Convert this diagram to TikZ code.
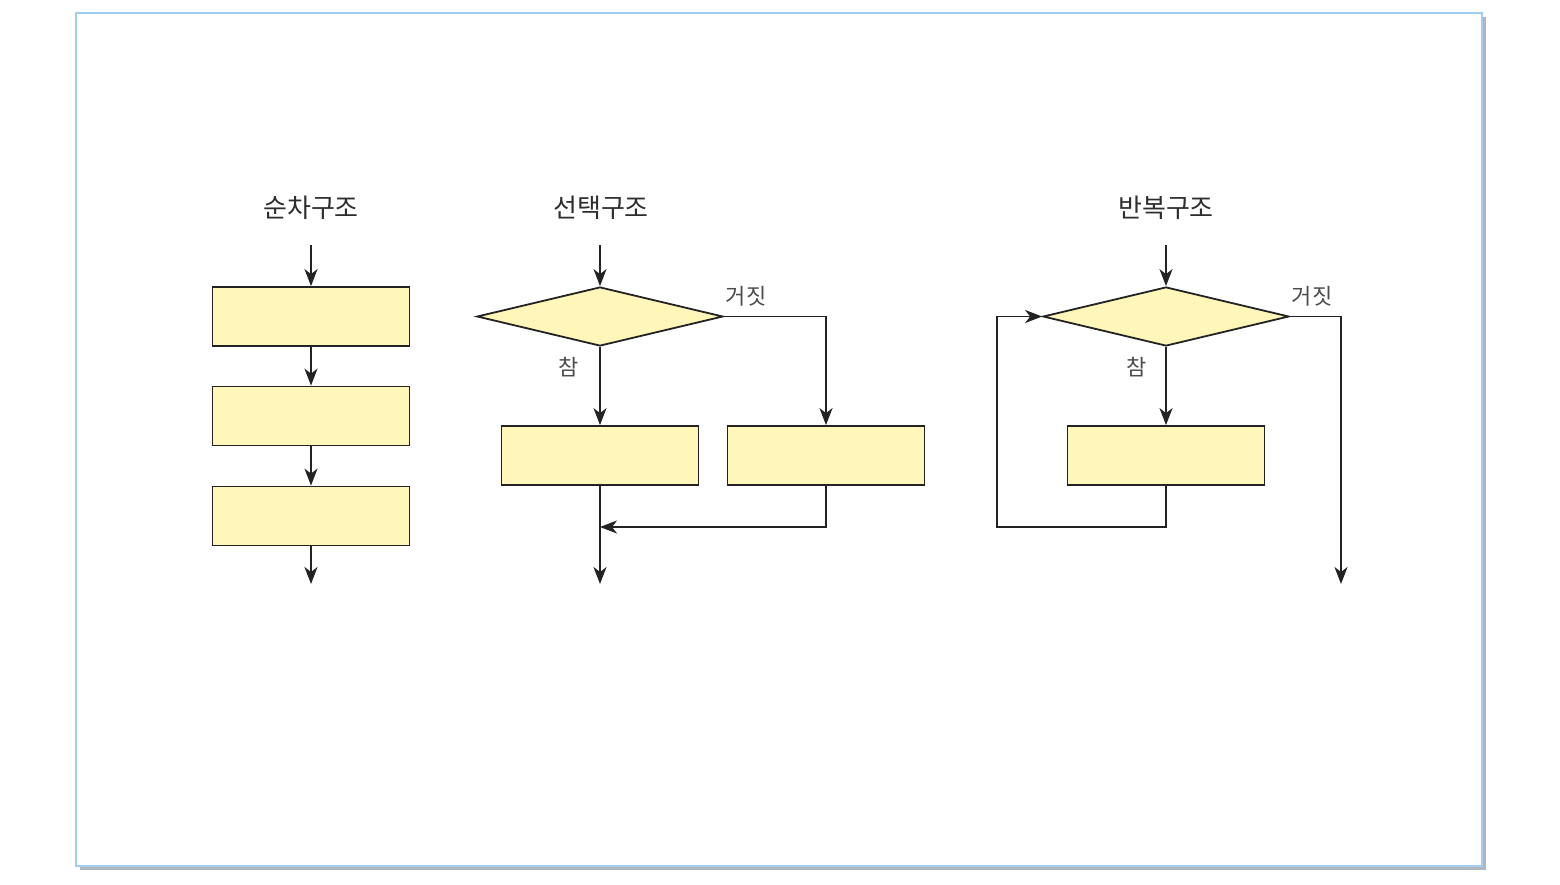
\documentclass[tikz,border=0pt]{standalone}
\usepackage{fontspec}
\newfontfamily\kr{Noto Sans CJK KR}
\usetikzlibrary{arrows.meta,shapes.geometric}
\definecolor{boxfill}{RGB}{255,246,186}
\definecolor{ln}{RGB}{35,35,35}
\definecolor{frameblue}{RGB}{160,205,240}
\definecolor{shadowgray}{RGB}{175,182,190}
\definecolor{txt}{RGB}{45,45,45}
\begin{document}
\begin{tikzpicture}[x=1pt,y=-1pt,
  procbox/.style={draw=ln,line width=1.8pt,fill=boxfill,rectangle,minimum width=197pt,minimum height=59pt,inner sep=0pt},
  decbox/.style={draw=ln,line width=1.8pt,fill=boxfill,diamond,aspect=4.17,minimum width=246pt,minimum height=59pt,inner sep=0pt},
  flow/.style={draw=ln,line width=1.8pt,-{Stealth[length=17pt,width=13pt,inset=5pt]}},
  title/.style={font=\kr\fontsize{26}{30}\selectfont,text=txt,inner sep=0pt},
  lbl/.style={font=\kr\fontsize{22}{26}\selectfont,text=txt!85,inner sep=0pt}]
\useasboundingbox (0,0) rectangle (1560,884);
% frame
\fill[shadowgray] (80,17) rectangle (1486,870);
\draw[frameblue,fill=white,line width=1.2pt] (76,13) rectangle (1482,866);

% sequence
\node[title] (t1) at (311,208) {순차구조};
\coordinate (s0) at (311,245);
\node[procbox] (a1) at (311,316.5) {};
\node[procbox] (a2) at (311,416) {};
\node[procbox] (a3) at (311,516) {};
\coordinate (s4) at (311,584);
\draw[flow] (s0) -- (a1.north);
\draw[flow] (a1.south) -- (a2.north);
\draw[flow] (a2.south) -- (a3.north);
\draw[flow] (a3.south) -- (s4);

% selection
\node[title] (t2) at (601,208) {선택구조};
\coordinate (b0) at (600,245);
\node[decbox] (d1) at (600,316.5) {};
\node[procbox] (b1) at (600,455.5) {};
\node[procbox] (b2) at (826,455.5) {};
\coordinate (bj) at (600,527);
\coordinate (b3) at (600,584);
\draw[flow] (b0) -- (d1.north);
\draw[flow] (d1.south) -- (b1.north);
\draw[flow] (d1.east) -| (b2.north);
\draw[flow] (b2.south) |- (bj);
\draw[flow] (b1.south) -- (b3);
\node[lbl] (f1) at (746,296) {거짓};
\node[lbl] (r1) at (569,367) {참};

% iteration
\node[title] (t3) at (1166,208) {반복구조};
\coordinate (c0) at (1166,245);
\node[decbox] (d2) at (1166,316.5) {};
\node[procbox] (c1) at (1166,455.5) {};
\coordinate (cl) at (997,527);
\coordinate (c3) at (1341,584);
\draw[flow] (c0) -- (d2.north);
\draw[flow] (d2.south) -- (c1.north);
\draw[flow] (d2.east) -| (c3);
\draw[flow] (c1.south) |- (cl) |- (d2.west);
\node[lbl] (f2) at (1312,296) {거짓};
\node[lbl] (r2) at (1137,367) {참};
\end{tikzpicture}
\end{document}
